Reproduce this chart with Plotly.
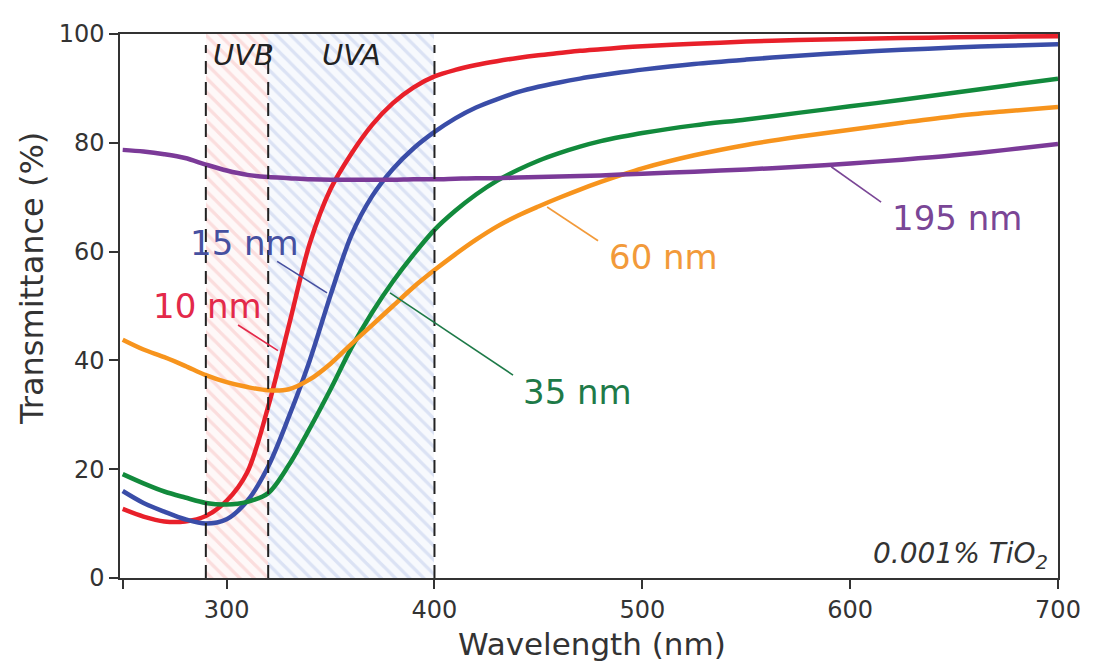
import plotly.graph_objects as go

# ---------------- data ----------------
wavelength = [250, 260, 270, 280, 290, 300, 310, 320, 330, 340, 350, 360, 370, 380, 390,
              400, 410, 420, 430, 440, 450, 460, 470, 480, 490, 500,
              525, 550, 575, 600, 625, 650, 675, 700]

t_10nm = [12.7, 11.3, 10.4, 10.4, 11.4, 14.2, 19.5, 31.5, 46.5, 61.5, 71.5, 78.0, 83.3, 87.3, 90.2,
          92.2, 93.4, 94.3, 95.0, 95.6, 96.1, 96.5, 96.9, 97.2, 97.5, 97.75,
          98.2, 98.6, 98.9, 99.1, 99.25, 99.4, 99.5, 99.6]
t_15nm = [16.0, 13.8, 12.2, 10.8, 10.0, 10.8, 14.2, 20.5, 29.7, 40.0, 52.0, 63.0, 70.2, 75.2, 79.0,
          82.0, 84.5, 86.5, 88.0, 89.3, 90.3, 91.1, 91.8, 92.4, 92.95, 93.45,
          94.5, 95.3, 96.0, 96.6, 97.1, 97.5, 97.85, 98.1]
t_35nm = [19.1, 17.4, 15.9, 14.8, 13.8, 13.5, 14.0, 15.6, 20.8, 27.5, 34.7, 42.3, 48.8, 54.5, 59.5,
          64.0, 67.5, 70.5, 73.0, 75.0, 76.7, 78.1, 79.3, 80.3, 81.1, 81.8,
          83.2, 84.3, 85.5, 86.7, 87.9, 89.2, 90.5, 91.8]
t_60nm = [43.8, 42.0, 40.6, 39.0, 37.3, 36.0, 35.1, 34.5, 34.7, 36.5, 39.4, 43.0, 46.5, 50.0, 53.5,
          56.6, 59.5, 62.2, 64.6, 66.6, 68.3, 69.9, 71.4, 72.8, 74.1, 75.3,
          77.7, 79.6, 81.1, 82.4, 83.7, 84.9, 85.8, 86.6]
t_195nm = [78.7, 78.4, 77.9, 77.2, 76.0, 74.9, 74.1, 73.7, 73.5, 73.3, 73.2, 73.2, 73.2, 73.2, 73.3,
           73.3, 73.4, 73.5, 73.5, 73.6, 73.7, 73.8, 73.9, 74.0, 74.15, 74.3,
           74.7, 75.1, 75.6, 76.2, 76.9, 77.7, 78.7, 79.8]

series_names = ["10 nm", "15 nm", "35 nm", "60 nm", "195 nm"]
series_values = [t_10nm, t_15nm, t_35nm, t_60nm, t_195nm]
series_colors = ["#E8202A", "#3A4DA8", "#128A3C", "#F7941D", "#7B3A98"]
label_colors = ["#E3294A", "#4650A0", "#1E7A48", "#F29A3A", "#7A4696"]

# label positions (data coords) and leader lines [x0, y0, x1, y1]
label_pos = [(290.6, 50.0), (308.4, 61.5), (469.0, 34.2), (510.0, 59.1), (651.5, 66.2)]
leader_lines = [(305.5, 46.5, 324.7, 41.8),
                (324.3, 58.2, 348.3, 52.4),
                (378.6, 52.4, 437.8, 37.3),
                (454.2, 68.2, 478.7, 62.0),
                (590.9, 75.6, 614.9, 69.1)]

# UV bands
band_names = ["UVB", "UVA"]
band_start = [290, 320]
band_end = [320, 400]
band_fg = ["#F7C2C2", "#BFCBEB"]
band_bg = ["#FEF8F8", "#F7F9FD"]
band_label_x = [308.0, 360.0]

x_ticks = [250, 300, 400, 500, 600, 700]
x_ticktext = [" ", "300", "400", "500", "600", "700"]
y_ticks = [0, 20, 40, 60, 80, 100]

FONT = "DejaVu Sans"
TXT = "#333333"

fig = go.Figure()

# hatched UV bands
for s, e, fg, bg in zip(band_start, band_end, band_fg, band_bg):
    fig.add_trace(go.Bar(
        x=[(s + e) / 2], y=[100], width=[e - s], base=[0],
        marker=dict(color=bg, line=dict(width=0),
                    pattern=dict(shape="\\", fgcolor=fg, bgcolor=bg, size=10, solidity=0.32)),
        showlegend=False, hoverinfo="skip"))

# dashed band boundaries
for xv in sorted(set(band_start + band_end)):
    fig.add_shape(type="line", x0=xv, x1=xv, y0=0, y1=98, xref="x", yref="y",
                  line=dict(color="#222222", width=2, dash="13px,8px"))

# curves
for name, vals, col in zip(series_names, series_values, series_colors):
    fig.add_trace(go.Scatter(x=wavelength, y=vals, mode="lines", name=name,
                             line=dict(color=col, width=4.5, shape="spline", smoothing=0.9),
                             showlegend=False))

# leader lines
for (x0, y0, x1, y1), col in zip(leader_lines, label_colors):
    fig.add_shape(type="line", x0=x0, y0=y0, x1=x1, y1=y1, xref="x", yref="y",
                  line=dict(color=col, width=1.6))

# series labels
for name, (lx, ly), col in zip(series_names, label_pos, label_colors):
    fig.add_annotation(x=lx, y=ly, text=name, showarrow=False, xref="x", yref="y",
                       font=dict(family=FONT, size=34, color=col))

# band labels
for name, bx in zip(band_names, band_label_x):
    fig.add_annotation(x=bx, y=96.2, text=name, showarrow=False, xref="x", yref="y",
                       font=dict(family=FONT, size=29, color="#222222", style="italic"))

# TiO2 note
fig.add_annotation(x=1, y=0, xref="paper", yref="paper", xanchor="right", yanchor="bottom",
                   xshift=-8, yshift=2, showarrow=False,
                   text="0.001% TiO<sub>2</sub>",
                   font=dict(family=FONT, size=28, color=TXT, style="italic"))

# axis titles
fig.add_annotation(x=-0.094, y=0.551, xref="paper", yref="paper", textangle=-90,
                   xanchor="center", yanchor="middle",
                   text="Transmittance (%)", showarrow=False,
                   font=dict(family=FONT, size=32, color=TXT))
fig.add_annotation(x=0.503, y=-0.122, xref="paper", yref="paper",
                   xanchor="center", yanchor="middle",
                   text="Wavelength (nm)", showarrow=False,
                   font=dict(family=FONT, size=31, color=TXT))

fig.update_layout(
    width=1085, height=654,
    margin=dict(l=112, r=33, t=20, b=84),
    paper_bgcolor="white", plot_bgcolor="white",
    barmode="overlay", bargap=0,
    xaxis=dict(range=[248.7, 700], tickvals=x_ticks, ticktext=x_ticktext,
               showgrid=False, zeroline=False, showline=True, linecolor="#333333",
               linewidth=1.5, mirror=True, ticks="outside", ticklen=9, tickwidth=1.5,
               tickcolor="#333333",
               tickfont=dict(family=FONT, size=24, color=TXT)),
    yaxis=dict(range=[0, 100], tickvals=y_ticks,
               showgrid=False, zeroline=False, showline=True, linecolor="#333333",
               linewidth=1.5, mirror=True, ticks="outside", ticklen=9, tickwidth=1.5,
               tickcolor="#333333",
               tickfont=dict(family=FONT, size=24, color=TXT)),
)

fig.write_html("out.html")
